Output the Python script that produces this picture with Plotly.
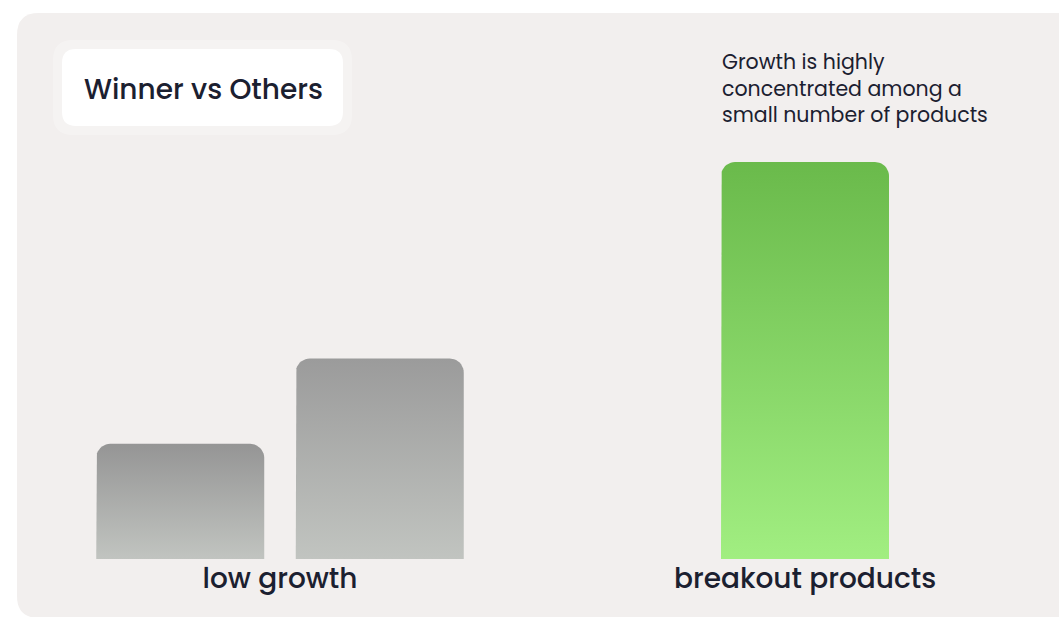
import math
import plotly.graph_objects as go

# ---- data ----
categories = ["low growth", "breakout products"]
bar_category = [0, 0, 1]          # which category each bar belongs to
bar_offset = [-0.19, 0.19, 0.0]   # offset of each bar inside its category
bar_values = [29, 50.5, 100]
bar_top_colors = ["#959595", "#9b9b9b", "#6aba4b"]
bar_bottom_colors = ["#c1c4c0", "#c1c4c0", "#a1ee81"]
title_text = "Winner vs Others"
note_text = "Growth is highly<br>concentrated among a<br>small number of products"

# ---- layout constants ----
W, H = 1059, 617
M_L, M_R, M_T, M_B = 0, 0, 0, 58
X_RANGE = [-0.5333, 1.4838]
Y_RANGE = [0, 140.8]
BAR_W = 0.32
CORNER_PX = 14
FONT = "Poppins, Inter, sans-serif"
TXT = "#1b2030"

plot_w = W - M_L - M_R
plot_h = H - M_T - M_B
px_per_x = plot_w / (X_RANGE[1] - X_RANGE[0])
px_per_y = plot_h / (Y_RANGE[1] - Y_RANGE[0])


def bar_path(xc, v):
    x0, x1 = xc - BAR_W / 2, xc + BAR_W / 2
    rx = CORNER_PX / px_per_x
    ry = CORNER_PX / px_per_y
    xs, ys = [x0, x0], [0, v - ry]
    n = 10
    for i in range(1, n + 1):
        a = math.pi - (math.pi / 2) * i / n
        xs.append(x0 + rx + rx * math.cos(a))
        ys.append(v - ry + ry * math.sin(a))
    for i in range(0, n + 1):
        a = math.pi / 2 - (math.pi / 2) * i / n
        xs.append(x1 - rx + rx * math.cos(a))
        ys.append(v - ry + ry * math.sin(a))
    xs += [x1, x0]
    ys += [0, 0]
    return xs, ys


fig = go.Figure()
for cat, off, v, ct, cb in zip(bar_category, bar_offset, bar_values,
                               bar_top_colors, bar_bottom_colors):
    xs, ys = bar_path(cat + off, v)
    fig.add_trace(go.Scatter(
        x=xs, y=ys, mode="lines", fill="toself",
        line=dict(width=0, color=ct),
        fillgradient=dict(type="vertical", start=0, stop=v,
                          colorscale=[[0, cb], [1, ct]]),
        hoverinfo="skip", showlegend=False,
    ))


def to_paper(px, py):
    return (px - M_L) / plot_w, (H - M_B - py) / plot_h


def rrect(x0, y0, x1, y1, r):
    pts = []
    def P(cmd, x, y):
        a, b = to_paper(x, y)
        return f"{cmd}{a:.5f},{b:.5f}"
    def Q(cx, cy, x, y):
        a, b = to_paper(cx, cy)
        c, d = to_paper(x, y)
        return f"Q{a:.5f},{b:.5f} {c:.5f},{d:.5f}"
    pts.append(P("M", x0 + r, y0))
    pts.append(P("L", x1 - r, y0))
    pts.append(Q(x1, y0, x1, y0 + r))
    pts.append(P("L", x1, y1 - r))
    pts.append(Q(x1, y1, x1 - r, y1))
    pts.append(P("L", x0 + r, y1))
    pts.append(Q(x0, y1, x0, y1 - r))
    pts.append(P("L", x0, y0 + r))
    pts.append(Q(x0, y0, x0 + r, y0))
    return " ".join(pts) + " Z"


shapes = [
    dict(type="path", xref="paper", yref="paper", layer="below",
         path=rrect(17, 13, 1082, 618, 22),
         fillcolor="#f2efee", line=dict(width=0)),
    dict(type="path", xref="paper", yref="paper", layer="below",
         path=rrect(53, 40, 352, 135, 20),
         fillcolor="rgba(255,255,255,0.28)", line=dict(width=0)),
    dict(type="path", xref="paper", yref="paper", layer="below",
         path=rrect(62, 49, 343, 126, 14),
         fillcolor="#ffffff", line=dict(width=0)),
]

tx, ty = to_paper(82, 89)
nx, ny = to_paper(720, 45)
annotations = [
    dict(text=title_text, xref="paper", yref="paper", x=tx, y=ty,
         xanchor="left", yanchor="middle", showarrow=False,
         font=dict(family=FONT, size=28, color=TXT, weight=500)),
    dict(text=note_text, xref="paper", yref="paper", x=nx, y=ny,
         xanchor="left", yanchor="top", align="left", showarrow=False,
         font=dict(family=FONT, size=20.5, color=TXT)),
]

fig.update_layout(
    width=W, height=H,
    margin=dict(l=M_L, r=M_R, t=M_T, b=M_B, pad=0),
    paper_bgcolor="#ffffff", plot_bgcolor="rgba(0,0,0,0)",
    shapes=shapes, annotations=annotations,
    xaxis=dict(range=X_RANGE, tickvals=[0, 1], ticktext=categories,
               tickfont=dict(family=FONT, size=28, color=TXT, weight=500),
               showgrid=False, zeroline=False, showline=False,
               ticks="", fixedrange=True),
    yaxis=dict(range=Y_RANGE, visible=False, showgrid=False,
               zeroline=False, fixedrange=True),
    showlegend=False,
)

fig.write_html("out.html", config={"displayModeBar": False})
